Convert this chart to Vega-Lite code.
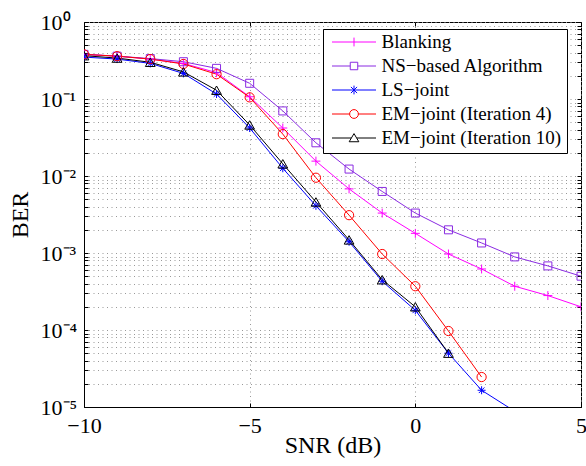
{
  "$schema": "https://vega.github.io/schema/vega-lite/v6.json",
  "width": 497,
  "height": 385,
  "autosize": {"type": "none"},
  "padding": {"left": 84, "top": 22, "right": 5, "bottom": 59},
  "background": "white",
  "config": {
    "view": {"stroke": "black", "strokeWidth": 1},
    "font": "Liberation Serif",
    "axis": {
      "domainColor": "black",
      "tickColor": "black",
      "labelColor": "black",
      "titleColor": "black",
      "labelFont": "Liberation Serif",
      "titleFont": "Liberation Serif",
      "titleFontWeight": "normal",
      "labelFontSize": 22,
      "titleFontSize": 24,
      "gridColor": "#999999",
      "gridDash": [1, 3.5],
      "gridWidth": 1,
      "gridOpacity": 1,
      "labelFlush": false,
      "labelOverlap": false,
      "tickSize": -4
    },
    "legend": {
      "orient": "none",
      "legendX": 239,
      "legendY": 7,
      "padding": 5,
      "strokeColor": "black",
      "fillColor": "white",
      "labelFont": "Liberation Serif",
      "labelFontSize": 19,
      "labelColor": "black",
      "labelLimit": 400,
      "symbolSize": 1936,
      "symbolStrokeWidth": 1,
      "symbolOpacity": 1,
      "symbolFillColor": "transparent",
      "clipHeight": 16,
      "rowPadding": 5,
      "symbolOffset": 3.5,
      "labelOffset": 5
    }
  },
  "resolve": {"axis": {"x": "independent", "y": "independent"}},
  "data": {
    "values": [
      {"series": "Blanking", "snr": -10, "ber": 0.38},
      {"series": "Blanking", "snr": -9, "ber": 0.36},
      {"series": "Blanking", "snr": -8, "ber": 0.33},
      {"series": "Blanking", "snr": -7, "ber": 0.29},
      {"series": "Blanking", "snr": -6, "ber": 0.22},
      {"series": "Blanking", "snr": -5, "ber": 0.107},
      {"series": "Blanking", "snr": -4, "ber": 0.042},
      {"series": "Blanking", "snr": -3, "ber": 0.0156},
      {"series": "Blanking", "snr": -2, "ber": 0.0068},
      {"series": "Blanking", "snr": -1, "ber": 0.0033},
      {"series": "Blanking", "snr": 0, "ber": 0.0018},
      {"series": "Blanking", "snr": 1, "ber": 0.00097},
      {"series": "Blanking", "snr": 2, "ber": 0.00062},
      {"series": "Blanking", "snr": 3, "ber": 0.00037},
      {"series": "Blanking", "snr": 4, "ber": 0.00028},
      {"series": "Blanking", "snr": 5, "ber": 0.0002},
      {"series": "NS−based Algorithm", "snr": -10, "ber": 0.38},
      {"series": "NS−based Algorithm", "snr": -9, "ber": 0.36},
      {"series": "NS−based Algorithm", "snr": -8, "ber": 0.335},
      {"series": "NS−based Algorithm", "snr": -7, "ber": 0.305},
      {"series": "NS−based Algorithm", "snr": -6, "ber": 0.25},
      {"series": "NS−based Algorithm", "snr": -5, "ber": 0.16},
      {"series": "NS−based Algorithm", "snr": -4, "ber": 0.07},
      {"series": "NS−based Algorithm", "snr": -3, "ber": 0.027},
      {"series": "NS−based Algorithm", "snr": -2, "ber": 0.0123},
      {"series": "NS−based Algorithm", "snr": -1, "ber": 0.0063},
      {"series": "NS−based Algorithm", "snr": 0, "ber": 0.0033},
      {"series": "NS−based Algorithm", "snr": 1, "ber": 0.002},
      {"series": "NS−based Algorithm", "snr": 2, "ber": 0.00135},
      {"series": "NS−based Algorithm", "snr": 3, "ber": 0.00089},
      {"series": "NS−based Algorithm", "snr": 4, "ber": 0.00068},
      {"series": "NS−based Algorithm", "snr": 5, "ber": 0.0005},
      {"series": "LS−joint", "snr": -10, "ber": 0.35},
      {"series": "LS−joint", "snr": -9, "ber": 0.33},
      {"series": "LS−joint", "snr": -8, "ber": 0.29},
      {"series": "LS−joint", "snr": -7, "ber": 0.215},
      {"series": "LS−joint", "snr": -6, "ber": 0.116},
      {"series": "LS−joint", "snr": -5, "ber": 0.042},
      {"series": "LS−joint", "snr": -4, "ber": 0.0126},
      {"series": "LS−joint", "snr": -3, "ber": 0.0041},
      {"series": "LS−joint", "snr": -2, "ber": 0.0014},
      {"series": "LS−joint", "snr": -1, "ber": 0.00043},
      {"series": "LS−joint", "snr": 0, "ber": 0.00018},
      {"series": "LS−joint", "snr": 1, "ber": 0.00005},
      {"series": "LS−joint", "snr": 2, "ber": 0.0000165},
      {"series": "LS−joint", "snr": 3, "ber": 0.0000088},
      {"series": "EM−joint (Iteration 4)", "snr": -10, "ber": 0.38},
      {"series": "EM−joint (Iteration 4)", "snr": -9, "ber": 0.36},
      {"series": "EM−joint (Iteration 4)", "snr": -8, "ber": 0.33},
      {"series": "EM−joint (Iteration 4)", "snr": -7, "ber": 0.285},
      {"series": "EM−joint (Iteration 4)", "snr": -6, "ber": 0.21},
      {"series": "EM−joint (Iteration 4)", "snr": -5, "ber": 0.105},
      {"series": "EM−joint (Iteration 4)", "snr": -4, "ber": 0.035},
      {"series": "EM−joint (Iteration 4)", "snr": -3, "ber": 0.0095},
      {"series": "EM−joint (Iteration 4)", "snr": -2, "ber": 0.0031},
      {"series": "EM−joint (Iteration 4)", "snr": -1, "ber": 0.00097},
      {"series": "EM−joint (Iteration 4)", "snr": 0, "ber": 0.00037},
      {"series": "EM−joint (Iteration 4)", "snr": 1, "ber": 0.000097},
      {"series": "EM−joint (Iteration 4)", "snr": 2, "ber": 0.0000245},
      {"series": "EM−joint (Iteration 10)", "snr": -10, "ber": 0.365},
      {"series": "EM−joint (Iteration 10)", "snr": -9, "ber": 0.34},
      {"series": "EM−joint (Iteration 10)", "snr": -8, "ber": 0.3},
      {"series": "EM−joint (Iteration 10)", "snr": -7, "ber": 0.225},
      {"series": "EM−joint (Iteration 10)", "snr": -6, "ber": 0.13},
      {"series": "EM−joint (Iteration 10)", "snr": -5, "ber": 0.046},
      {"series": "EM−joint (Iteration 10)", "snr": -4, "ber": 0.0144},
      {"series": "EM−joint (Iteration 10)", "snr": -3, "ber": 0.0046},
      {"series": "EM−joint (Iteration 10)", "snr": -2, "ber": 0.00148},
      {"series": "EM−joint (Iteration 10)", "snr": -1, "ber": 0.00045},
      {"series": "EM−joint (Iteration 10)", "snr": 0, "ber": 0.0002},
      {"series": "EM−joint (Iteration 10)", "snr": 1, "ber": 0.00005}
    ]
  },
  "encoding": {
    "x": {
      "field": "snr",
      "type": "quantitative",
      "scale": {"domain": [-10, 5], "nice": false, "zero": false},
      "axis": null
    },
    "y": {
      "field": "ber",
      "type": "quantitative",
      "scale": {"type": "log", "domain": [0.00001, 1], "nice": false},
      "axis": null
    },
    "color": {
      "field": "series",
      "type": "nominal",
      "scale": {
        "domain": ["Blanking", "NS−based Algorithm", "LS−joint", "EM−joint (Iteration 4)", "EM−joint (Iteration 10)"],
        "range": ["#ff00ff", "#8a2be2", "#0000ff", "#ff0000", "#000000"]
      },
      "legend": {"title": null}
    }
  },
  "layer": [
    {
      "mark": {"type": "line", "strokeWidth": 1, "clip": true},
      "encoding": {
        "x": {
          "field": "snr",
          "type": "quantitative",
          "scale": {"domain": [-10, 5], "nice": false, "zero": false},
          "axis": {
            "title": "SNR (dB)",
            "values": [-10, -5, 0, 5],
            "labelPadding": 12,
            "titleY": 45,
            "titleBaseline": "alphabetic"
          }
        },
        "y": {
          "field": "ber",
          "type": "quantitative",
          "scale": {"type": "log", "domain": [0.00001, 1], "nice": false},
          "axis": {
            "title": "BER",
            "values": [0.00001, 0.00002, 0.00003, 0.00004, 0.00005, 0.00006, 0.00007, 0.00008, 0.00009,
                       0.0001, 0.0002, 0.0003, 0.0004, 0.0005, 0.0006, 0.0007, 0.0008, 0.0009,
                       0.001, 0.002, 0.003, 0.004, 0.005, 0.006, 0.007, 0.008, 0.009,
                       0.01, 0.02, 0.03, 0.04, 0.05, 0.06, 0.07, 0.08, 0.09,
                       0.1, 0.2, 0.3, 0.4, 0.5, 0.6, 0.7, 0.8, 0.9, 1],
            "labelExpr": "abs(log(datum.value)/LN10 - round(log(datum.value)/LN10)) < 0.000001 ? '10' + ['⁰','⁻¹','⁻²','⁻³','⁻⁴','⁻⁵'][-round(log(datum.value)/LN10)] : ''",
            "labelAlign": "left",
            "labelBaseline": "middle",
            "labelPadding": 48,
            "titleX": -57,
            "titleBaseline": "alphabetic"
          }
        }
      }
    },
    {
      "transform": [{"filter": {"field": "series", "equal": "Blanking"}}],
      "mark": {"type": "point", "filled": false, "size": 80, "strokeWidth": 1, "opacity": 1, "clip": true, "shape": "M-1,0H1M0,-1V1"}
    },
    {
      "transform": [{"filter": {"field": "series", "equal": "NS−based Algorithm"}}],
      "mark": {"type": "point", "filled": false, "size": 64, "strokeWidth": 1, "opacity": 1, "clip": true, "shape": "square"}
    },
    {
      "transform": [{"filter": {"field": "series", "equal": "LS−joint"}}],
      "mark": {"type": "point", "filled": false, "size": 64, "strokeWidth": 1, "opacity": 1, "clip": true, "shape": "M-1,0H1M0,-1V1M-0.7,-0.7L0.7,0.7M-0.7,0.7L0.7,-0.7"}
    },
    {
      "transform": [{"filter": {"field": "series", "equal": "EM−joint (Iteration 4)"}}],
      "mark": {"type": "point", "filled": false, "size": 85, "strokeWidth": 1, "opacity": 1, "clip": true, "shape": "circle"}
    },
    {
      "transform": [{"filter": {"field": "series", "equal": "EM−joint (Iteration 10)"}}],
      "mark": {"type": "point", "filled": false, "size": 95, "strokeWidth": 1, "opacity": 1, "clip": true, "shape": "triangle-up"}
    },
    {
      "mark": {"type": "point", "filled": false, "size": 10, "opacity": 0, "clip": true},
      "encoding": {
        "x": {
          "field": "snr",
          "type": "quantitative",
          "scale": {"domain": [-10, 5], "nice": false, "zero": false},
          "axis": {
            "orient": "top",
            "title": null,
            "values": [-10, -5, 0, 5],
            "labels": false,
            "grid": false,
            "domain": false
          }
        },
        "y": {
          "field": "ber",
          "type": "quantitative",
          "scale": {"type": "log", "domain": [0.00001, 1], "nice": false},
          "axis": {
            "orient": "right",
            "title": null,
            "values": [0.00001, 0.00002, 0.00003, 0.00004, 0.00005, 0.00006, 0.00007, 0.00008, 0.00009,
                       0.0001, 0.0002, 0.0003, 0.0004, 0.0005, 0.0006, 0.0007, 0.0008, 0.0009,
                       0.001, 0.002, 0.003, 0.004, 0.005, 0.006, 0.007, 0.008, 0.009,
                       0.01, 0.02, 0.03, 0.04, 0.05, 0.06, 0.07, 0.08, 0.09,
                       0.1, 0.2, 0.3, 0.4, 0.5, 0.6, 0.7, 0.8, 0.9, 1],
            "labels": false,
            "grid": false,
            "domain": false
          }
        },
        "shape": {
          "field": "series",
          "type": "nominal",
          "legend": {"title": null},
          "scale": {
            "domain": ["Blanking", "NS−based Algorithm", "LS−joint", "EM−joint (Iteration 4)", "EM−joint (Iteration 10)"],
            "range": [
              "M-1,0H1M0,-0.2V0.2",
              "M-1,0H-0.17M0.17,0H1M-0.17,-0.17H0.17V0.17H-0.17Z",
              "M-1,0H1M0,-0.2V0.2M-0.14,-0.14L0.14,0.14M-0.14,0.14L0.14,-0.14",
              "M-1,0H-0.2M0.2,0H1M-0.2,0A0.2,0.2,0,1,0,0.2,0A0.2,0.2,0,1,0,-0.2,0",
              "M-1,0H-0.13M0.13,0H1M0,-0.2L0.22,0.17H-0.22Z"
            ]
          }
        }
      }
    }
  ]
}
